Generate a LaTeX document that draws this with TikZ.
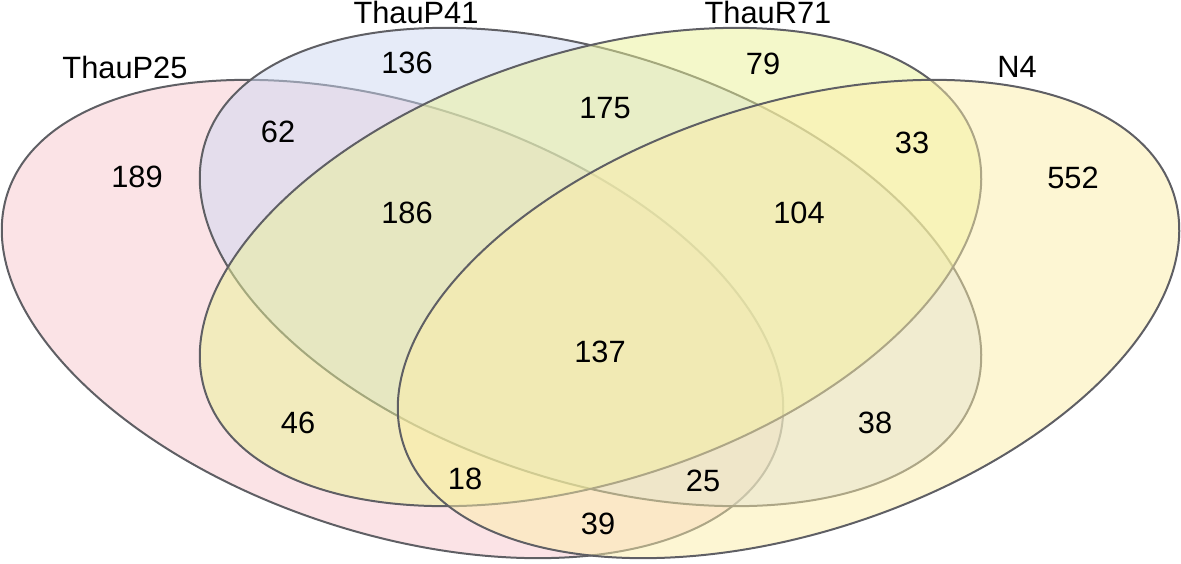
\documentclass[tikz,border=0pt]{standalone}
\usepackage{fontspec}
\setmainfont{Liberation Sans}
\definecolor{pinkc}{RGB}{248,200,206}
\definecolor{bluec}{RGB}{205,216,242}
\definecolor{greenc}{RGB}{234,242,150}
\definecolor{yellowc}{RGB}{252,238,168}
\definecolor{edgec}{RGB}{95,95,100}
\tikzset{
  vset/.style={draw=edgec, line width=1pt, fill opacity=0.5},
  lab/.style={inner sep=0pt, font=\fontsize{15.4}{17}\selectfont, text=black},
}
\begin{document}
\begin{tikzpicture}[x=0.5pt,y=-0.5pt]
\useasboundingbox (0,0) rectangle (1181,563);
% ellipses: ThauP25, ThauP41, ThauR71, N4
\draw[vset, fill=pinkc, shift={(392.5,319)}, rotate=-18.08] (0,0) ellipse [x radius=405, y radius=214];
\draw[vset, fill=bluec, shift={(590.5,267)}, rotate=-18.08] (0,0) ellipse [x radius=405, y radius=214];
\draw[vset, fill=greenc, shift={(590.5,267)}, rotate=18.08] (0,0) ellipse [x radius=405, y radius=214];
\draw[vset, fill=yellowc, shift={(788.5,319)}, rotate=18.08] (0,0) ellipse [x radius=405, y radius=214];
% set names
\node[lab] (nP25) at (125,67) {ThauP25};
\node[lab] (nP41) at (416,12) {ThauP41};
\node[lab] (nR71) at (768,12) {ThauR71};
\node[lab] (nN4) at (1017,67) {N4};
% counts
\node[lab] (c189) at (137,177) {189};
\node[lab] (c62) at (278,132) {62};
\node[lab] (c136) at (407,63) {136};
\node[lab] (c175) at (605,108) {175};
\node[lab] (c79) at (763,64) {79};
\node[lab] (c33) at (912,143) {33};
\node[lab] (c552) at (1073,178) {552};
\node[lab] (c186) at (407,213) {186};
\node[lab] (c104) at (799,213) {104};
\node[lab] (c137) at (600,352) {137};
\node[lab] (c46) at (298,423) {46};
\node[lab] (c38) at (875,423) {38};
\node[lab] (c18) at (465,479) {18};
\node[lab] (c25) at (703,481) {25};
\node[lab] (c39) at (598,524) {39};
\end{tikzpicture}
\end{document}
